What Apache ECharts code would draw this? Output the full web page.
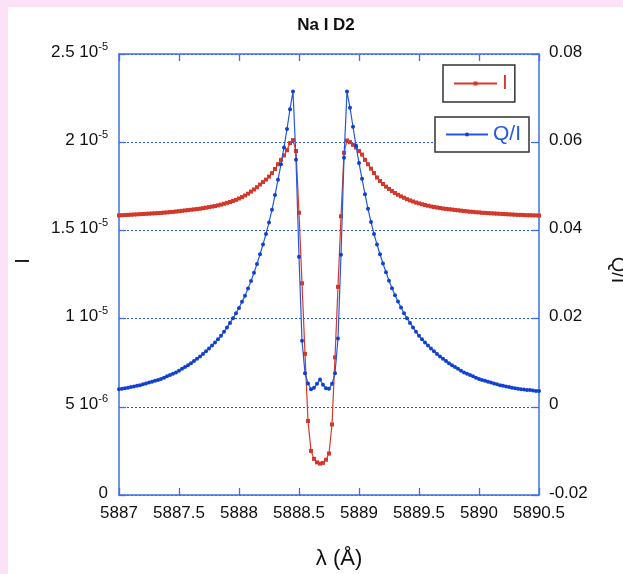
<!DOCTYPE html>
<html>
<head>
<meta charset="utf-8">
<script src="https://cdn.jsdelivr.net/npm/echarts@6/dist/echarts.min.js"></script>
<style>
html,body{margin:0;padding:0;background:#fff;}
#chart{width:623px;height:574px;}
</style>
</head>
<body>
<div id="chart"></div>
<script>
// Wavelength grid (Å)
const wavelengths = [
5887.000,5887.025,5887.050,5887.075,5887.100,5887.125,5887.150,5887.175,5887.200,5887.225,
5887.250,5887.275,5887.300,5887.325,5887.350,5887.375,5887.400,5887.425,5887.450,5887.475,
5887.500,5887.525,5887.550,5887.575,5887.600,5887.625,5887.650,5887.675,5887.700,5887.725,
5887.750,5887.775,5887.800,5887.825,5887.850,5887.875,5887.900,5887.925,5887.950,5887.975,
5888.000,5888.025,5888.050,5888.075,5888.100,5888.125,5888.150,5888.175,5888.200,5888.225,
5888.250,5888.275,5888.300,5888.325,5888.350,5888.375,5888.400,5888.425,5888.450,5888.475,
5888.500,5888.525,5888.550,5888.575,5888.600,5888.625,5888.650,5888.675,5888.700,5888.725,
5888.750,5888.775,5888.800,5888.825,5888.850,5888.875,5888.900,5888.925,5888.950,5888.975,
5889.000,5889.025,5889.050,5889.075,5889.100,5889.125,5889.150,5889.175,5889.200,5889.225,
5889.250,5889.275,5889.300,5889.325,5889.350,5889.375,5889.400,5889.425,5889.450,5889.475,
5889.500,5889.525,5889.550,5889.575,5889.600,5889.625,5889.650,5889.675,5889.700,5889.725,
5889.750,5889.775,5889.800,5889.825,5889.850,5889.875,5889.900,5889.925,5889.950,5889.975,
5890.000,5890.025,5890.050,5890.075,5890.100,5890.125,5890.150,5890.175,5890.200,5890.225,
5890.250,5890.275,5890.300,5890.325,5890.350,5890.375,5890.400,5890.425,5890.450,5890.475,
5890.500
];
// Intensity I in units of 1e-5 (left axis)
const intensityE5 = [
1.585,1.586,1.587,1.588,1.589,1.590,1.591,1.592,1.593,1.594,
1.595,1.596,1.597,1.598,1.599,1.601,1.602,1.604,1.605,1.607,
1.609,1.611,1.613,1.615,1.617,1.619,1.621,1.623,1.626,1.629,
1.632,1.635,1.638,1.642,1.646,1.651,1.656,1.661,1.667,1.673,
1.681,1.689,1.698,1.708,1.720,1.732,1.745,1.760,1.774,1.788,
1.805,1.825,1.848,1.875,1.900,1.925,1.955,1.995,2.012,1.950,
1.600,1.200,0.800,0.420,0.250,0.205,0.185,0.178,0.182,0.200,
0.235,0.400,0.780,1.180,1.580,1.940,2.010,2.000,1.985,1.970,
1.950,1.930,1.900,1.875,1.850,1.825,1.800,1.780,1.763,1.748,
1.735,1.723,1.712,1.702,1.693,1.685,1.677,1.670,1.664,1.658,
1.653,1.648,1.644,1.640,1.636,1.633,1.630,1.627,1.624,1.622,
1.620,1.618,1.616,1.614,1.612,1.610,1.608,1.606,1.605,1.603,
1.602,1.600,1.599,1.598,1.597,1.596,1.595,1.594,1.593,1.592,
1.591,1.590,1.589,1.588,1.588,1.587,1.586,1.586,1.585,1.585,
1.584
];
// Polarization Q/I (right axis)
const polarization = [
0.0040,0.0041,0.0042,0.0043,0.0045,0.0046,0.0048,0.0049,0.0051,0.0053,
0.0055,0.0057,0.0059,0.0061,0.0063,0.0066,0.0069,0.0072,0.0075,0.0078,
0.0082,0.0086,0.0090,0.0094,0.0099,0.0104,0.0109,0.0114,0.0120,0.0126,
0.0132,0.0139,0.0146,0.0153,0.0161,0.0170,0.0180,0.0190,0.0201,0.0212,
0.0224,0.0238,0.0252,0.0268,0.0285,0.0304,0.0324,0.0346,0.0368,0.0392,
0.0418,0.0447,0.0480,0.0515,0.0550,0.0588,0.0630,0.0675,0.0715,0.0560,
0.0340,0.0150,0.0076,0.0053,0.0040,0.0043,0.0052,0.0062,0.0050,0.0042,
0.0041,0.0052,0.0076,0.0155,0.0345,0.0565,0.0715,0.0678,0.0635,0.0592,
0.0553,0.0517,0.0482,0.0449,0.0419,0.0392,0.0368,0.0346,0.0325,0.0305,
0.0286,0.0269,0.0253,0.0239,0.0225,0.0212,0.0201,0.0190,0.0180,0.0170,
0.0161,0.0153,0.0146,0.0139,0.0132,0.0126,0.0120,0.0114,0.0109,0.0104,
0.0099,0.0094,0.0090,0.0086,0.0082,0.0078,0.0075,0.0072,0.0069,0.0066,
0.0063,0.0061,0.0059,0.0057,0.0055,0.0053,0.0051,0.0049,0.0048,0.0046,
0.0045,0.0043,0.0042,0.0041,0.0040,0.0039,0.0038,0.0038,0.0037,0.0036,
0.0036
];
const xTickLabels = ['5887','5887.5','5888','5888.5','5889','5889.5','5890','5890.5'];
const leftTickMantissa = ['0','5 10','1 10','1.5 10','2 10','2.5 10'];
const leftTickExponent = ['','-6','-5','-5','-5','-5'];
const rightTickLabels = ['-0.02','0','0.02','0.04','0.06','0.08'];

const FONT = "'Liberation Sans', Arial, Helvetica, sans-serif";
const RED = '#d4382a';
const BLUE = '#2458e0';
const AXIS = '#3f6fe6';

const chart = echarts.init(document.getElementById('chart'), null, {renderer: 'canvas'});
const tickStyle = {inside: true, length: 7, lineStyle: {color: AXIS, width: 1.3}};
const lineAxis = {show: true, onZero: false, lineStyle: {color: AXIS, width: 1.5}};

chart.setOption({
  animation: false,
  backgroundColor: '#ffffff',
  grid: {left: 119, right: 84, top: 54, bottom: 79, containLabel: false},
  xAxis: [{
    type: 'value', min: 5887, max: 5890.5, interval: 0.5, position: 'bottom',
    axisLine: lineAxis, axisTick: tickStyle, splitLine: {show: false},
    axisLabel: {margin: 10, fontSize: 17, color: '#111', fontFamily: FONT,
      showMinLabel: true, showMaxLabel: true,
      formatter: (v, i) => xTickLabels[i]}
  }, {
    type: 'value', min: 5887, max: 5890.5, interval: 0.5, position: 'top',
    axisLine: lineAxis, axisTick: tickStyle, splitLine: {show: false},
    axisLabel: {show: false}
  }],
  yAxis: [{
    type: 'value', min: 0, max: 2.5, interval: 0.5, position: 'left',
    axisLine: lineAxis, axisTick: tickStyle,
    splitLine: {show: true, lineStyle: {color: '#2a52d8', width: 1, type: [2, 2]}},
    axisLabel: {margin: 11, color: '#111', fontFamily: FONT,
      showMinLabel: true, showMaxLabel: true,
      padding: [0, 0, 4, 0],
      formatter: (v, i) => leftTickExponent[i] ? '{m|' + leftTickMantissa[i] + '}{s|' + leftTickExponent[i] + '}' : '{m|' + leftTickMantissa[i] + '}',
      rich: {
        m: {fontSize: 17, lineHeight: 22, fontFamily: FONT, color: '#111'},
        s: {fontSize: 11, lineHeight: 11, verticalAlign: 'top', fontFamily: FONT, color: '#111'}
      }}
  }, {
    type: 'value', min: -0.02, max: 0.08, interval: 0.02, position: 'right',
    axisLine: lineAxis, axisTick: tickStyle, splitLine: {show: false},
    axisLabel: {margin: 10, color: '#111', fontFamily: FONT,
      showMinLabel: true, showMaxLabel: true, padding: [0, 0, 4, 0],
      formatter: (v, i) => '{r|' + rightTickLabels[i] + '}',
      rich: {r: {fontSize: 17, lineHeight: 22, fontFamily: FONT, color: '#111'}}}
  }],
  legend: [{
    data: ['I'], left: 443, top: 65, orient: 'horizontal',
    padding: [8, 7, 8, 10], itemWidth: 43, itemHeight: 5,
    borderColor: '#333', borderWidth: 1.5, backgroundColor: '#fff', borderRadius: 0,
    selectedMode: false,
    textStyle: {color: RED, fontSize: 21, fontFamily: FONT}
  }, {
    data: ['Q/I'], left: 435, top: 117, orient: 'horizontal',
    padding: [7, 8, 7, 10], itemWidth: 42, itemHeight: 5,
    borderColor: '#333', borderWidth: 1.5, backgroundColor: '#fff', borderRadius: 0,
    selectedMode: false,
    textStyle: {color: BLUE, fontSize: 21, fontFamily: FONT}
  }],
  series: [{
    name: 'I', type: 'line', xAxisIndex: 0, yAxisIndex: 0,
    data: wavelengths.map((w, i) => [w, intensityE5[i]]),
    symbol: 'rect', symbolSize: 4, showAllSymbol: true,
    lineStyle: {color: RED, width: 1.2}, itemStyle: {color: RED},
    z: 3
  }, {
    name: 'Q/I', type: 'line', xAxisIndex: 0, yAxisIndex: 1,
    data: wavelengths.map((w, i) => [w, polarization[i]]),
    symbol: 'circle', symbolSize: 4, showAllSymbol: true,
    lineStyle: {color: BLUE, width: 1.2}, itemStyle: {color: '#1040d0'},
    z: 4
  }],
  graphic: [
    {type: 'rect', shape: {x: 0, y: 0, width: 623, height: 7}, style: {fill: '#fde1f6'}, z: 0},
    {type: 'rect', shape: {x: 0, y: 0, width: 8, height: 574}, style: {fill: '#fde1f6'}, z: 0},
    {type: 'text', x: 326, y: 25, style: {text: 'Na I D2', fontSize: 17, fontWeight: 'bold', fontFamily: FONT, fill: '#111', align: 'center', verticalAlign: 'middle'}},
    {type: 'text', x: 23, y: 261, rotation: Math.PI / 2, style: {text: 'I', fontSize: 20, fontFamily: FONT, fill: '#111', align: 'center', verticalAlign: 'middle'}},
    {type: 'text', x: 618, y: 270, rotation: -Math.PI / 2, style: {text: 'Q/I', fontSize: 20, fontFamily: FONT, fill: '#111', align: 'center', verticalAlign: 'middle'}},
    {type: 'text', x: 339, y: 559, style: {text: 'λ (Å)', fontSize: 22, fontFamily: FONT, fill: '#111', align: 'center', verticalAlign: 'middle'}}
  ]
});
</script>
</body>
</html>
